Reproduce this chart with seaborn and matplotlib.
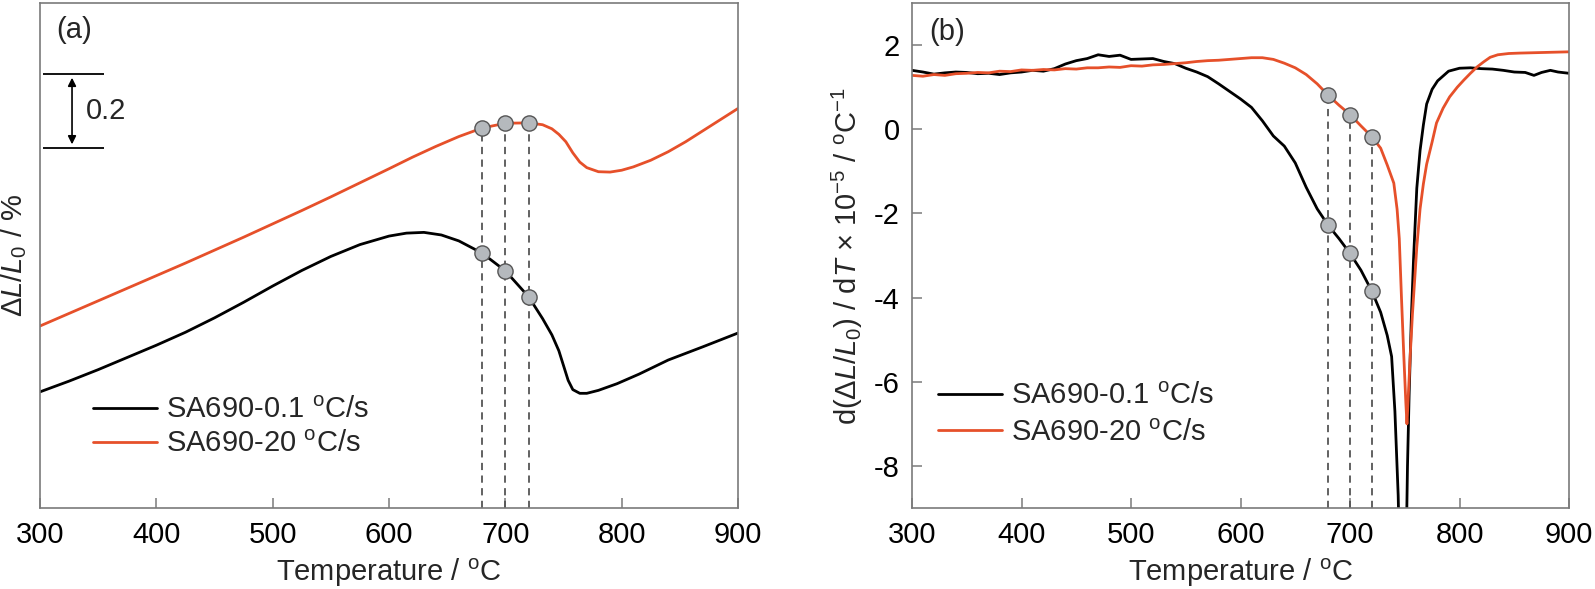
import numpy as np
import pandas as pd
import seaborn as sns
import matplotlib.pyplot as plt

# panel (a): dilatation curves, arbitrary offset, y in % (scale bar = 0.2 %)
temp_a_slow = [300, 325, 350, 375, 400, 425, 450, 475, 500, 525, 550, 575, 600, 615, 630,
               645, 660, 680, 700, 720, 732, 740, 746, 750, 754, 758, 764, 770, 780, 796,
               815, 840, 870, 900]
dl_slow = [0.314, 0.343, 0.374, 0.407, 0.440, 0.475, 0.514, 0.556, 0.600, 0.642, 0.680,
           0.712, 0.735, 0.743, 0.745, 0.738, 0.722, 0.689, 0.641, 0.571, 0.512, 0.468,
           0.425, 0.385, 0.345, 0.320, 0.310, 0.310, 0.318, 0.336, 0.362, 0.400, 0.436,
           0.473]

temp_a_fast = [300, 325, 350, 375, 400, 425, 450, 475, 500, 525, 550, 575, 600, 620, 640,
               660, 680, 700, 720, 732, 740, 746, 752, 758, 764, 770, 780, 790, 800, 810,
               825, 840, 855, 870, 885, 900]
dl_fast = [0.492, 0.526, 0.560, 0.594, 0.628, 0.662, 0.697, 0.732, 0.768, 0.804, 0.841,
           0.879, 0.917, 0.948, 0.977, 1.004, 1.027, 1.040, 1.041, 1.036, 1.025, 1.010,
           0.990, 0.960, 0.935, 0.920, 0.909, 0.908, 0.913, 0.922, 0.940, 0.963, 0.990,
           1.020, 1.050, 1.080]

# panel (b): derivative curves, x 10^-5 / oC
temp_b_slow = [300, 310, 320, 330, 340, 350, 360, 370, 380, 390, 400, 410, 420, 430, 440,
               450, 460, 470, 480, 490, 500, 510, 520, 530, 540, 550, 560, 570, 580, 590,
               600, 610, 620, 630, 640, 650, 660, 670, 680, 690, 700, 710, 720, 728, 734,
               738, 741, 744, 745.5, 751, 752.5, 754, 756, 758, 761, 764, 767, 770, 775,
               780, 790, 800, 810, 820, 830, 840, 850, 860, 868, 875, 883, 890, 900]
dd_slow = [1.40, 1.36, 1.31, 1.34, 1.36, 1.35, 1.32, 1.33, 1.30, 1.34, 1.36, 1.40, 1.38,
           1.44, 1.55, 1.63, 1.68, 1.77, 1.73, 1.76, 1.66, 1.67, 1.68, 1.61, 1.56, 1.45,
           1.36, 1.25, 1.08, 0.90, 0.72, 0.52, 0.20, -0.16, -0.40, -0.80, -1.38, -1.89,
           -2.28, -2.60, -2.95, -3.35, -3.85, -4.35, -4.90, -5.40, -6.70, -8.70, -10.5,
           -10.5, -8.0, -6.3, -4.5, -3.1, -1.4, -0.5, 0.1, 0.6, 0.95, 1.15, 1.38, 1.45,
           1.46, 1.44, 1.43, 1.40, 1.36, 1.35, 1.28, 1.35, 1.40, 1.36, 1.33]

temp_b_fast = [300, 310, 320, 330, 340, 350, 360, 370, 380, 390, 400, 410, 420, 430, 440,
               450, 460, 470, 480, 490, 500, 510, 520, 530, 540, 550, 560, 570, 580, 590,
               600, 610, 620, 630, 640, 650, 660, 670, 680, 690, 700, 710, 720, 728, 734,
               740, 743, 745, 747, 749, 751, 752, 753.5, 755, 757, 758, 761, 764, 767, 770,
               775, 779, 785, 791, 798, 804, 810, 816, 822, 828, 835, 845, 855, 870, 885,
               900]
dd_fast = [1.28, 1.26, 1.30, 1.28, 1.32, 1.33, 1.35, 1.34, 1.38, 1.37, 1.41, 1.40, 1.42,
           1.41, 1.44, 1.43, 1.46, 1.46, 1.48, 1.47, 1.51, 1.50, 1.53, 1.54, 1.56, 1.58,
           1.61, 1.63, 1.64, 1.66, 1.68, 1.70, 1.70, 1.66, 1.57, 1.46, 1.30, 1.08, 0.81,
           0.57, 0.35, 0.08, -0.18, -0.45, -0.85, -1.28, -1.90, -2.60, -4.00, -5.30, -6.50,
           -7.00, -6.20, -5.36, -4.40, -4.00, -2.80, -1.89, -1.30, -0.83, -0.30, 0.15, 0.50,
           0.77, 1.00, 1.17, 1.33, 1.48, 1.60, 1.71, 1.77, 1.80, 1.81, 1.82, 1.83, 1.84]

mark_temps = [680, 700, 720]
labels = ["SA690-0.1 $^{\\mathrm{o}}$C/s", "SA690-20 $^{\\mathrm{o}}$C/s"]
orange = "#E6502A"

sns.set_theme(style="ticks")
plt.rcParams["font.family"] = ["Liberation Sans", "DejaVu Sans"]
plt.rcParams["mathtext.fontset"] = "custom"
plt.rcParams["mathtext.rm"] = "Liberation Sans"
plt.rcParams["mathtext.it"] = "Liberation Sans:italic"
plt.rcParams["font.size"] = 20

fig = plt.figure(figsize=(15.95, 5.89), dpi=100)
ax_a = fig.add_axes([0.0251, 0.1375, 0.4376, 0.8574])
ax_b = fig.add_axes([0.5718, 0.1375, 0.4119, 0.8574])


def style_axes(ax):
    for sp in ax.spines.values():
        sp.set_color("#7a7a7a")
        sp.set_linewidth(1.2)
    ax.tick_params(direction="in", length=7, width=1.1, color="#7a7a7a",
                   labelsize=21, pad=9, labelcolor="black")
    ax.set_xlim(300, 900)
    ax.set_xticks(range(300, 901, 100))
    ax.set_xlabel("Temperature / $^{\\mathrm{o}}$C", fontsize=21, labelpad=6)


def draw_panel(ax, t_slow, y_slow, t_fast, y_fast, ymin):
    sns.lineplot(x=t_slow, y=y_slow, ax=ax, color="black", lw=2.0, label=labels[0])
    sns.lineplot(x=t_fast, y=y_fast, ax=ax, color=orange, lw=2.0, label=labels[1])
    m_slow = np.interp(mark_temps, t_slow, y_slow)
    m_fast = np.interp(mark_temps, t_fast, y_fast)
    ax.vlines(mark_temps, ymin, m_fast, colors="#555555", linestyles=(0, (4, 3)),
              lw=1.3, zorder=1)
    pts = pd.DataFrame({"T": mark_temps * 2, "v": list(m_slow) + list(m_fast)})
    sns.scatterplot(data=pts, x="T", y="v", ax=ax, s=120, color="#b5b9bd",
                    edgecolor="#555555", linewidth=1.0, zorder=5, legend=False)


# (a)
draw_panel(ax_a, temp_a_slow, dl_slow, temp_a_fast, dl_fast, 0)
style_axes(ax_a)
ax_a.set_ylim(0, 1.365)
ax_a.set_yticks([])
ax_a.set_ylabel("$\\Delta L/L_0$ / %", fontsize=21, labelpad=8)
ax_a.text(0.023, 0.947, "(a)", transform=ax_a.transAxes, fontsize=21, va="center")
ax_a.hlines([1.173, 0.973], 302.6, 355, colors="black", lw=1.3)
ax_a.annotate("", xy=(327.5, 1.163), xytext=(327.5, 0.983),
              arrowprops=dict(arrowstyle="<|-|>", color="black", lw=1.2,
                              mutation_scale=12, shrinkA=0, shrinkB=0))
ax_a.text(339.5, 1.073, "0.2", fontsize=21, va="center")
ax_a.legend(loc="upper left", bbox_to_anchor=(0.076, 0.222), frameon=False,
            fontsize=21, handlelength=2.2, handletextpad=0.3, labelspacing=0.2,
            borderpad=0, borderaxespad=0)

# (b)
draw_panel(ax_b, temp_b_slow, dd_slow, temp_b_fast, dd_fast, -9)
style_axes(ax_b)
ax_b.set_ylim(-9, 3)
ax_b.set_yticks(range(-8, 3, 2))
ax_b.set_yticklabels([str(v) for v in range(-8, 3, 2)])
ax_b.set_ylabel("d($\\Delta L/L_0$) / d$T$ × 10$^{-5}$ / $^{\\mathrm{o}}$C$^{-1}$",
                fontsize=21, labelpad=6)
ax_b.text(0.026, 0.942, "(b)", transform=ax_b.transAxes, fontsize=21, va="center")
ax_b.legend(loc="upper left", bbox_to_anchor=(0.04, 0.25), frameon=False,
            fontsize=21, handlelength=2.2, handletextpad=0.3, labelspacing=0.3,
            borderpad=0, borderaxespad=0)

fig.savefig("out.png", dpi=100)
